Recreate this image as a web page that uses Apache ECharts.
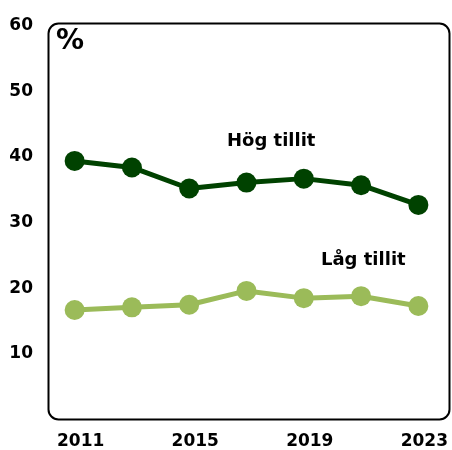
<!DOCTYPE html>
<html>
<head>
<meta charset="utf-8">
<script src="https://cdn.jsdelivr.net/npm/echarts@6/dist/echarts.min.js"></script>
<style>html,body{margin:0;padding:0;background:#fff;}#c{width:452px;height:450px;}</style>
</head>
<body>
<div id="c"></div>
<script>
const years = ['2011', '2013', '2015', '2017', '2019', '2021', '2023'];
const hogTillit = [39.0, 38.0, 34.8, 35.7, 36.3, 35.3, 32.3];
const lagTillit = [16.3, 16.7, 17.1, 19.2, 18.1, 18.4, 16.9];
const yTicks = [10, 20, 30, 40, 50, 60];

const FONT = '"DejaVu Sans", Verdana, sans-serif';
const chart = echarts.init(document.getElementById('c'), null, {renderer: 'canvas'});
const grid = {left: 46, right: 5, top: 23, bottom: 32};
chart.setOption({
  animation: false,
  grid: grid,
  graphic: [
    {type: 'rect', left: 46, top: 21, silent: true, z: 0,
     shape: {width: 401, height: 396, r: 10},
     style: {fill: 'none', stroke: '#000', lineWidth: 2}},
    {type: 'text', left: 56, top: 28, style: {text: '%', font: 'bold 28px ' + FONT, fill: '#000'}},
    {type: 'text', left: 227, top: 132, style: {text: 'Hög tillit', font: 'bold 18px ' + FONT, fill: '#000'}},
    {type: 'text', left: 321, top: 251, style: {text: 'Låg tillit', font: 'bold 18px ' + FONT, fill: '#000'}}
  ],
  xAxis: {
    type: 'category', data: years, boundaryGap: true,
    axisLine: {show: false}, axisTick: {show: false},
    axisLabel: {interval: 1, margin: 16, color: '#000', fontFamily: FONT, fontWeight: 'bold', fontSize: 17, padding: [0, 0, 0, 12]}
  },
  yAxis: {
    type: 'value', min: 0, max: 60, interval: 10,
    splitLine: {show: false}, axisLine: {show: false}, axisTick: {show: false},
    axisLabel: {margin: 13, color: '#000', fontFamily: FONT, fontWeight: 'bold', fontSize: 17,
      verticalAlign: 'top', lineHeight: 5,
      formatter: v => yTicks.includes(v) ? String(v) : ''}
  },
  series: [
    {name: 'Hög tillit', type: 'line', data: hogTillit, symbol: 'circle', symbolSize: 20,
     lineStyle: {color: '#004200', width: 5}, itemStyle: {color: '#004200', borderWidth: 0}},
    {name: 'Låg tillit', type: 'line', data: lagTillit, symbol: 'circle', symbolSize: 20,
     lineStyle: {color: '#9bbb59', width: 5}, itemStyle: {color: '#9bbb59', borderWidth: 0}}
  ]
});
</script>
</body>
</html>
